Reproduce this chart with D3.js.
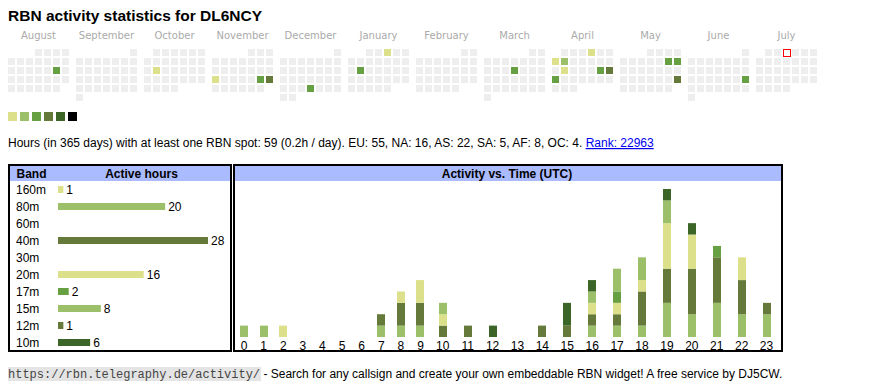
<!DOCTYPE html>
<html><head><meta charset="utf-8">
<script src="https://cdn.jsdelivr.net/npm/d3@7"></script>
<style>
html,body{margin:0;padding:0;background:#fff;}
svg{display:block;}
</style></head>
<body>
<svg id="c" width="870" height="390"></svg>
<script>
// ---------------- DATA ----------------
const title = "RBN activity statistics for DL6NCY";
const months = ["2024-08","2024-09","2024-10","2024-11","2024-12","2025-01","2025-02","2025-03","2025-04","2025-05","2025-06","2025-07"];
const monthNames = ["August","September","October","November","December","January","February","March","April","May","June","July"];
const activeDays = ["2024-08-17","2024-10-15","2024-11-18","2024-11-23","2024-11-24","2024-12-26","2025-01-03","2025-01-14","2025-03-13","2025-04-04","2025-04-07","2025-04-08","2025-04-15","2025-04-19","2025-04-20","2025-04-21","2025-05-10","2025-05-11","2025-05-25","2025-06-22"];
const activeLevels = [2,0,0,2,3,2,0,2,2,0,0,1,0,2,3,2,2,2,3,2];
const today = "2025-07-03";
const levelColors = ["#dce08b","#9cc06a","#67a043","#65793a","#3b6628","#000000"];

const statsText = "Hours (in 365 days) with at least one RBN spot: 59 (0.2h / day). EU: 55, NA: 16, AS: 22, SA: 5, AF: 8, OC: 4. ";
const rankText = "Rank: 22963";

const bands = ["160m","80m","60m","40m","30m","20m","17m","15m","12m","10m"];
const bandColors = ["#dce08b","#9cc06a","#67a043","#65793a","#3b6628","#dce08b","#67a043","#9cc06a","#65793a","#3b6628"];
const hours = d3.range(24);
//              0 1 2 3 4 5 6 7 8 9 10 11 12 13 14 15 16 17 18 19 20 21 22 23
const h160m = [0,0,1,0,0,0,0,0,0,0, 0, 0, 0, 0, 0, 0, 0, 0, 0, 0, 0, 0, 0, 0];
const h80m  = [1,1,0,0,0,0,0,1,1,1, 0, 0, 0, 0, 0, 0, 1, 1, 1, 3, 2, 3, 2, 2];
const h60m  = [0,0,0,0,0,0,0,0,0,0, 0, 0, 0, 0, 0, 0, 0, 0, 0, 0, 0, 0, 0, 0];
const h40m  = [0,0,0,0,0,0,0,1,2,2, 1, 1, 0, 0, 1, 0, 1, 1, 3, 3, 4, 4, 3, 1];
const h30m  = [0,0,0,0,0,0,0,0,0,0, 0, 0, 0, 0, 0, 0, 0, 0, 0, 0, 0, 0, 0, 0];
const h20m  = [0,0,0,0,0,0,0,0,1,2, 1, 0, 0, 0, 0, 0, 1, 1, 1, 4, 3, 0, 2, 0];
const h17m  = [0,0,0,0,0,0,0,0,0,0, 0, 0, 0, 0, 0, 0, 0, 1, 0, 0, 0, 1, 0, 0];
const h15m  = [0,0,0,0,0,0,0,0,0,0, 1, 0, 0, 0, 0, 0, 1, 2, 2, 2, 0, 0, 0, 0];
const h12m  = [0,0,0,0,0,0,0,0,0,0, 0, 0, 0, 0, 0, 1, 0, 0, 0, 0, 0, 0, 0, 0];
const h10m  = [0,0,0,0,0,0,0,0,0,0, 0, 0, 1, 0, 0, 2, 1, 0, 0, 1, 1, 0, 0, 0];
const footerUrl = "https://rbn.telegraphy.de/activity/";
const footerText = " - Search for any callsign and create your own embeddable RBN widget! A free service by DJ5CW.";

// ---------------- DRAW ----------------
const svg = d3.select("#c");
const SANS = "'Liberation Sans', Arial, sans-serif";
const FS = 12;

svg.append("text").attr("x",8).attr("y",21).attr("font-family",SANS)
  .attr("font-weight","bold").attr("font-size",15.5).attr("fill","#000").text(title);

// calendar
const parseM = d3.timeParse("%Y-%m");
const levelByDay = new Map(activeDays.map((d,i)=>[d,activeLevels[i]]));
const monthX = d3.scaleLinear().domain([0,1]).range([8,76]);
const colX = d3.scaleLinear().domain([0,1]).range([0,9]);
const rowY = d3.scaleLinear().domain([0,1]).range([49,58]);
const cell = 7;
const fmt = d3.timeFormat("%Y-%m-%d");
const weekday = d => (d.getDay()+6)%7;

months.forEach((m,mi)=>{
  const start = parseM(m);
  const end = d3.timeMonth.offset(start,1);
  const days = d3.timeDay.range(start,end);
  const off = weekday(start);
  const g = svg.append("g").attr("transform",`translate(${monthX(mi)},0)`);
  g.append("text").attr("x",colX(7)/2 - 1).attr("y",39).attr("text-anchor","middle")
    .attr("font-family","'DejaVu Sans', Verdana, sans-serif").attr("font-size",10)
    .attr("fill","#aaa").text(monthNames[mi]);
  g.selectAll("rect.day").data(days).join("rect").attr("class","day")
    .attr("x",d=>colX(weekday(d)) + (fmt(d)===today?0.5:0))
    .attr("y",d=>rowY(Math.floor((d.getDate()-1+off)/7)) + (fmt(d)===today?0.5:0))
    .attr("width",cell).attr("height",cell)
    .attr("fill",d=>{const k=fmt(d); return levelByDay.has(k)?levelColors[levelByDay.get(k)]:(k===today?"#fff":"#eeeeee");})
    .attr("stroke",d=>fmt(d)===today?"#f00":"none")
    .attr("stroke-width",1);
});

// legend squares
const legX = d3.scaleLinear().domain([0,1]).range([8,20]);
svg.selectAll("rect.leg").data(levelColors).join("rect").attr("class","leg")
  .attr("x",(d,i)=>legX(i)).attr("y",112).attr("width",9).attr("height",9).attr("fill",d=>d);

// stats line
const st = svg.append("text").attr("x",8).attr("y",147).attr("font-family",SANS).attr("font-size",FS).attr("fill","#000");
st.append("tspan").text(statsText);
st.append("tspan").attr("fill","#0000ee").attr("text-decoration","underline").text(rankText);

// ---------- band table ----------
const bandSeries = [h160m,h80m,h60m,h40m,h30m,h20m,h17m,h15m,h12m,h10m];
const bandTotals = bandSeries.map(a=>d3.sum(a));
svg.append("rect").attr("x",9).attr("y",165).attr("width",222).attr("height",186)
  .attr("fill","#fff").attr("stroke","#000").attr("stroke-width",2);
svg.append("rect").attr("x",10).attr("y",166).attr("width",220).attr("height",15).attr("fill","#aabbff");
svg.append("text").attr("x",16.5).attr("y",177.5).attr("font-family",SANS).attr("font-weight","bold").attr("font-size",FS).text("Band");
svg.append("text").attr("x",141.5).attr("y",177.5).attr("text-anchor","middle").attr("font-family",SANS).attr("font-weight","bold").attr("font-size",FS).text("Active hours");
const rowScale = d3.scaleBand().domain(bands).range([181,351]);
const barX = d3.scaleLinear().domain([0,d3.max(bandTotals)]).range([0,150]);
const rows = svg.selectAll("g.brow").data(bands).join("g").attr("class","brow")
  .attr("transform",d=>`translate(0,${rowScale(d)+rowScale.bandwidth()/2})`);
rows.append("text").attr("x",16).attr("y",4.3).attr("font-family",SANS).attr("font-size",FS).text(d=>d);
rows.filter((d,i)=>bandTotals[i]>0).append("rect").attr("x",58).attr("y",-3.5).attr("height",7)
  .attr("width",d=>barX(bandTotals[bands.indexOf(d)])).attr("fill",d=>bandColors[bands.indexOf(d)]);
rows.filter((d,i)=>bandTotals[i]>0).append("text")
  .attr("x",d=>58+barX(bandTotals[bands.indexOf(d)])+3).attr("y",4.3)
  .attr("font-family",SANS).attr("font-size",FS).text(d=>bandTotals[bands.indexOf(d)]);

// ---------- activity chart ----------
svg.append("rect").attr("x",234).attr("y",165).attr("width",548).attr("height",186)
  .attr("fill","#fff").attr("stroke","#000").attr("stroke-width",2);
svg.append("rect").attr("x",235).attr("y",166).attr("width",546).attr("height",15).attr("fill","#aabbff");
svg.append("text").attr("x",507).attr("y",177.5).attr("text-anchor","middle").attr("font-family",SANS)
  .attr("font-weight","bold").attr("font-size",FS).text("Activity vs. Time (UTC)");

const hourRows = hours.map(h=>{const o={hour:h}; bands.forEach((b,i)=>o[b]=bandSeries[i][h]); return o;});
const stack = d3.stack().keys(bands)(hourRows);
// column widths follow label length (like an auto-sized table)
const weights = hours.map(h=>String(h).length+2.7);
const cum = d3.cumsum(weights);
const colCenter = hours.map((h,i)=>cum[i]-weights[i]/2);
const x = d3.scaleLinear().domain([0,d3.sum(weights)]).range([234.2,779]);
const totals = hourRows.map(r=>d3.sum(bands,b=>r[b]));
const y = d3.scaleLinear().domain([0,d3.max(totals)]).range([337,189]);
const bw = 8;
svg.append("g").selectAll("g").data(stack).join("g").attr("fill",(d,i)=>bandColors[i])
  .selectAll("rect").data(d=>d.filter(s=>s[1]>s[0])).join("rect")
  .attr("x",d=>Math.round(x(colCenter[d.data.hour])-bw/2))
  .attr("y",d=>y(d[1])).attr("height",d=>y(d[0])-y(d[1])).attr("width",bw);
svg.append("g").selectAll("text").data(hours).join("text")
  .attr("x",h=>x(colCenter[h])).attr("y",349.5).attr("text-anchor","middle")
  .attr("font-family",SANS).attr("font-size",FS).text(h=>h);

// ---------- footer ----------
const ft = svg.append("text").attr("x",8).attr("y",378).attr("font-size",FS);
const urlSpan = ft.append("tspan").attr("font-family","'Liberation Mono', 'Courier New', monospace").attr("font-size",12).attr("fill","#444").text(footerUrl);
ft.append("tspan").attr("font-family",SANS).attr("fill","#000").text(footerText);
const uw = urlSpan.node().getComputedTextLength();
svg.insert("rect",function(){return ft.node();}).attr("x",8).attr("y",367).attr("width",uw+1).attr("height",14).attr("fill","#e4e4e4");
</script>
</body></html>
